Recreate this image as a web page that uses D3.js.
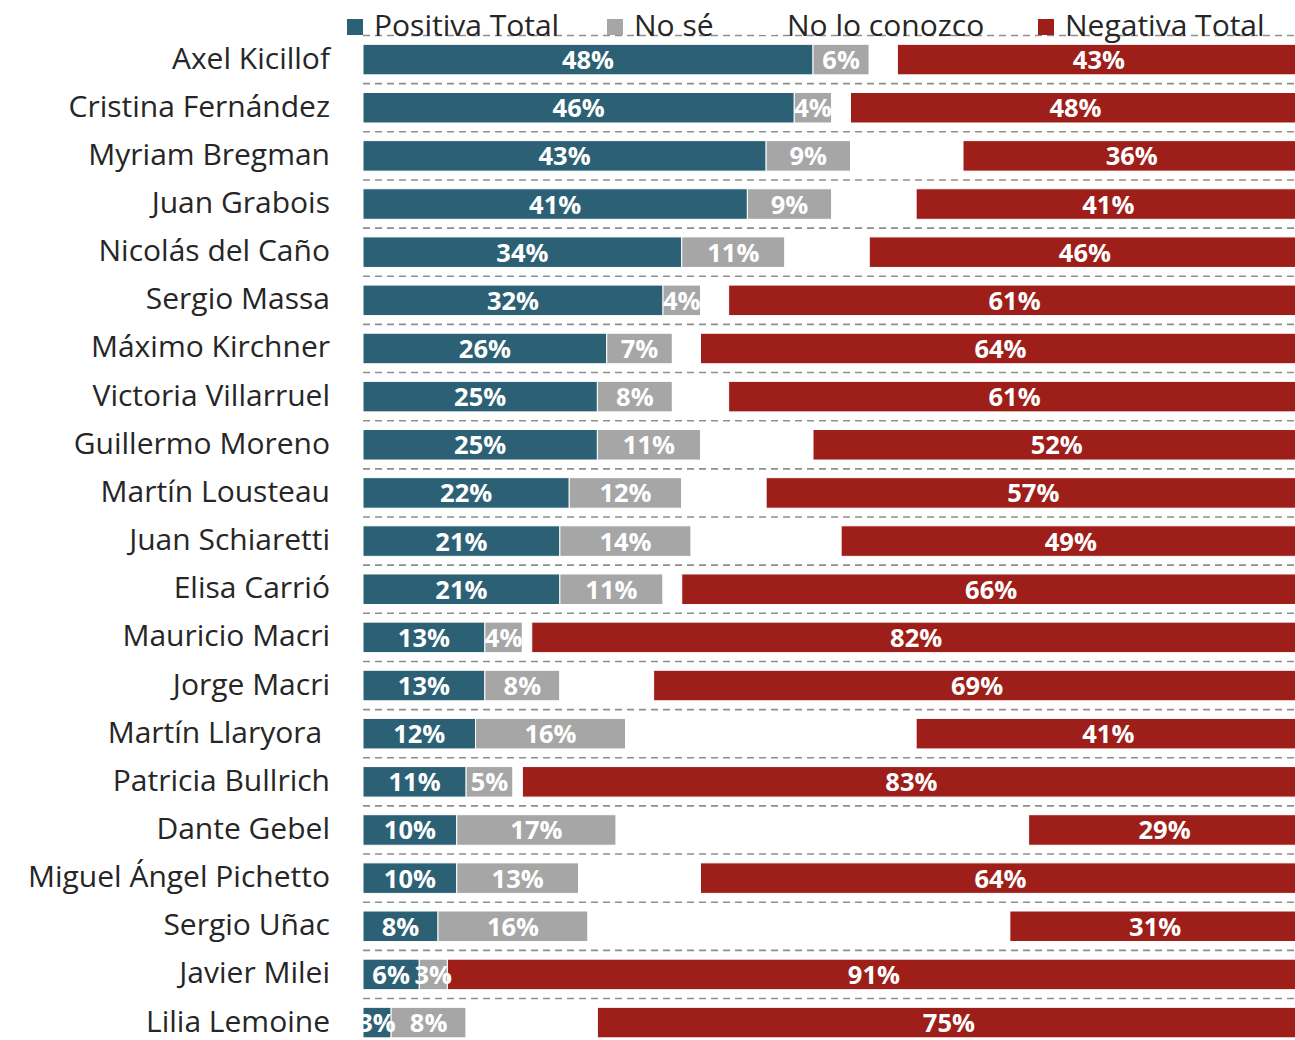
<!DOCTYPE html>
<html>
<head>
<meta charset="utf-8">
<script src="https://cdn.jsdelivr.net/npm/d3@7"></script>
<style>
  body { margin: 0; background: #fff; }
  svg { display: block; }
  text { font-family: "Open Sans", "Noto Sans", sans-serif; }
</style>
</head>
<body>
<svg id="chart" width="1295" height="1040"></svg>
<script>
// Image survey: positive / don't know / don't know them / negative, in %
const names = [
  "Axel Kicillof", "Cristina Fernández", "Myriam Bregman", "Juan Grabois",
  "Nicolás del Caño", "Sergio Massa", "Máximo Kirchner", "Victoria Villarruel",
  "Guillermo Moreno", "Martín Lousteau", "Juan Schiaretti", "Elisa Carrió",
  "Mauricio Macri", "Jorge Macri", "Martín Llaryora ", "Patricia Bullrich",
  "Dante Gebel", "Miguel Ángel Pichetto", "Sergio Uñac", "Javier Milei",
  "Lilia Lemoine"
];
const positiva  = [48, 46, 43, 41, 34, 32, 26, 25, 25, 22, 21, 21, 13, 13, 12, 11, 10, 10, 8, 6, 3];
const noSe      = [6, 4, 9, 9, 11, 4, 7, 8, 11, 12, 14, 11, 4, 8, 16, 5, 17, 13, 16, 3, 8];
const noConozco = [3, 2, 12, 9, 9, 3, 3, 6, 12, 9, 16, 2, 1, 10, 31, 1, 44, 13, 45, 0, 14];
const negativa  = [43, 48, 36, 41, 46, 61, 64, 61, 52, 57, 49, 66, 82, 69, 41, 83, 29, 64, 31, 91, 75];

const seriesNames = ["Positiva Total", "No sé", "No lo conozco", "Negativa Total"];
const seriesKeys = ["pos", "nose", "nocon", "neg"];
const seriesColors = ["#2C6175", "#A6A6A6", "#FFFFFF", "#9E1F1A"];
const labelled = [true, true, false, true];

const rows = names.map((n, i) => ({
  name: n, pos: positiva[i], nose: noSe[i], nocon: noConozco[i], neg: negativa[i]
}));

const svg = d3.select("#chart");
const W = 1295;

const x = d3.scaleLinear().domain([0, 100]).range([363, 1300.5]);
const y = d3.scaleBand()
  .domain(names)
  .range([35.5, 35.5 + 21 * 48.15])
  .paddingInner(0.366)
  .paddingOuter(0.183);

// dashed separators between rows
const gridY = d3.range(names.length + 1).map(i => y.range()[0] + i * y.step());
svg.append("g")
  .selectAll("line")
  .data(gridY)
  .join("line")
  .attr("x1", x(0)).attr("x2", W)
  .attr("y1", d => d).attr("y2", d => d)
  .attr("stroke", "#8f8f8f")
  .attr("stroke-width", 1.6)
  .attr("stroke-dasharray", "7,5");

// stacked bars
const stacked = d3.stack().keys(seriesKeys)(rows);

const barG = svg.append("g");
stacked.forEach((layer, si) => {
  barG.append("g")
    .selectAll("rect")
    .data(layer)
    .join("rect")
    .attr("x", d => x(d[0]))
    .attr("width", d => Math.max(0, x(d[1]) - x(d[0])))
    .attr("y", d => y(d.data.name))
    .attr("height", y.bandwidth())
    .attr("fill", seriesColors[si])
    .attr("stroke", "#fff")
    .attr("stroke-width", 1);
});

// value labels, kept inside the plotting area
svg.append("clipPath").attr("id", "plotClip")
  .append("rect").attr("x", x(0)).attr("y", 0).attr("width", W - x(0)).attr("height", 1040);

const labG = svg.append("g").attr("clip-path", "url(#plotClip)");
stacked.forEach((layer, si) => {
  if (!labelled[si]) return;
  labG.append("g")
    .selectAll("text")
    .data(layer)
    .join("text")
    .attr("x", d => (x(d[0]) + x(d[1])) / 2)
    .attr("y", d => y(d.data.name) + y.bandwidth() / 2 + 9.5)
    .attr("text-anchor", "middle")
    .attr("fill", "#fff")
    .attr("font-size", 25.5)
    .attr("font-weight", 700)
    .text(d => (d[1] - d[0]) + "%");
});

// category labels
svg.append("g")
  .selectAll("text")
  .data(names)
  .join("text")
  .attr("x", 330)
  .attr("y", d => y(d) + y.bandwidth() / 2 + 9)
  .attr("text-anchor", "end")
  .attr("fill", "#262626")
  .attr("font-size", 30)
  .style("white-space", "pre")
  .text(d => d);

// legend
const legendX = [347, 607, 760, 1038];
const legend = svg.append("g");
seriesNames.forEach((s, i) => {
  const g = legend.append("g").attr("transform", `translate(${legendX[i]},0)`);
  g.append("rect").attr("x", 0).attr("y", 19).attr("width", 16).attr("height", 16)
    .attr("fill", seriesColors[i]);
  g.append("text").attr("x", 27).attr("y", 36)
    .attr("fill", "#262626").attr("font-size", 30)
    .text(s);
});
</script>
</body>
</html>
